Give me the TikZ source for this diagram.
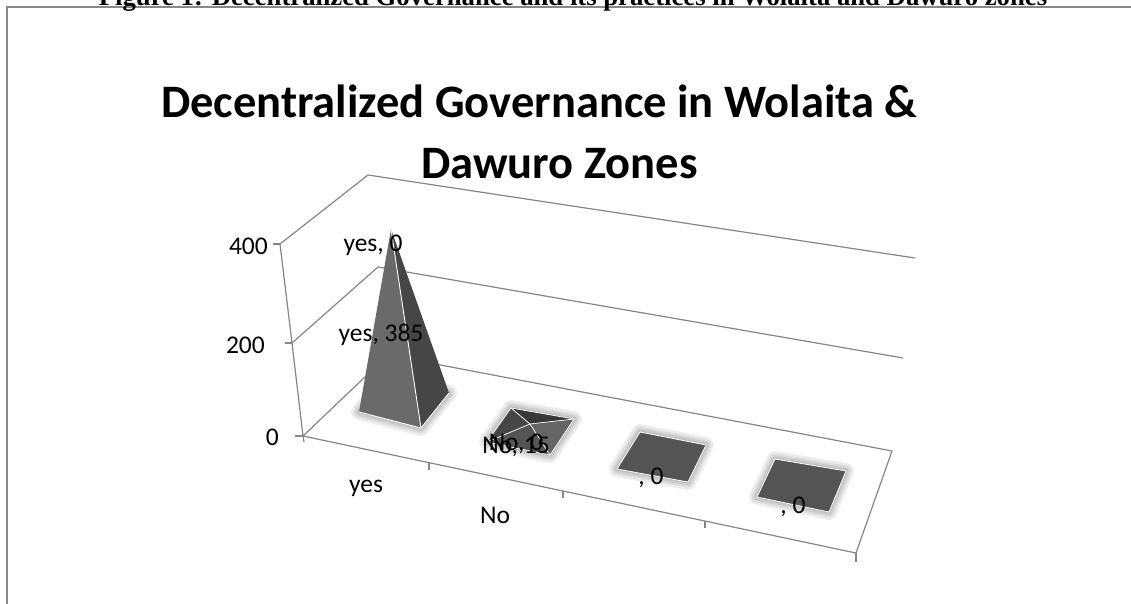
\documentclass[tikz,border=0pt]{standalone}
\usepackage{fontspec}
\setmainfont{Liberation Serif}
\newfontfamily\calfont{Carlito}
\definecolor{framegray}{HTML}{888888}
\definecolor{axisgray}{HTML}{868686}
\definecolor{facelight}{HTML}{6A6A6A}
\definecolor{facedark}{HTML}{464646}
\definecolor{flatgray}{HTML}{545454}
\tikzset{
  axisline/.style={draw=axisgray, line width=1.2pt, line join=round},
  glowpath/.style={draw=black, fill=black, line join=round, opacity=0.07},
  edgewhite/.style={draw=white, line width=0.9pt, line join=round},
  lbl/.style={font=\calfont\fontsize{25.5}{30}\selectfont, inner sep=0pt, text=black},
  ttl/.style={font=\calfont\bfseries\fontsize{46.5}{52}\selectfont, inner sep=0pt, anchor=base west},
  figcap/.style={font=\bfseries\fontsize{26.7}{30}\selectfont, inner sep=0pt, anchor=base}
}
\begin{document}
\begin{tikzpicture}[x=1pt,y=-1pt]
\useasboundingbox (0,0) rectangle (1131,603);
\clip (0,0) rectangle (1131,603);
% frame
\draw[framegray, line width=1.6pt] (7,620) -- (7,7) -- (1140,7);
% caption (clipped at top)
\node[figcap] (caption) at (573,5) {Figure 1: Decentralized Governance and its practices in Wolaita and Dawuro zones};
% title
\node[ttl] (title1) at (161,117) {Decentralized Governance in Wolaita \&};
\node[ttl] (title2) at (421,178) {Dawuro Zones};
% axes geometry
\coordinate (A400) at (280,244); \coordinate (A200) at (292,343); \coordinate (A0) at (303,436);
\coordinate (B400) at (368,175); \coordinate (B200) at (378,267); \coordinate (B0) at (388,355);
\coordinate (C400) at (915,258); \coordinate (C200) at (903,358); \coordinate (C0) at (892,451);
\coordinate (F0) at (856,553);
\coordinate (Abot) at (304,442); \coordinate (Fbot) at (856,562);
\coordinate (T400) at (273,244); \coordinate (T200) at (285,343); \coordinate (T0) at (295,436);
\draw[axisline] (A400) -- (A200) -- (A0) -- (Abot);
\draw[axisline] (T400) -- (A400); \draw[axisline] (T200) -- (A200); \draw[axisline] (T0) -- (A0);
\draw[axisline] (A400) -- (B400) -- (C400);
\draw[axisline] (A200) -- (B200) -- (C200);
\draw[axisline] (A0) -- (B0) -- (C0) -- (F0) -- cycle;
\draw[axisline] (F0) -- (Fbot);
\coordinate (k1) at (429,462.7); \coordinate (k1b) at (429,470);
\coordinate (k2) at (563,491); \coordinate (k2b) at (563,498);
\coordinate (k3) at (705,521); \coordinate (k3b) at (705,528);
\draw[axisline] (k1) -- (k1b); \draw[axisline] (k2) -- (k2b); \draw[axisline] (k3) -- (k3b);
% axis labels
\node[lbl, anchor=east] (v400) at (268,246) {400};
\node[lbl, anchor=east] (v200) at (265,345) {200};
\node[lbl, anchor=east] (v0) at (279,437) {0};
\node[lbl] (cyes) at (366,488) {yes};
\node[lbl] (cno) at (495,515) {No};
% ---- yes pyramid
\coordinate (YA) at (391,229); \coordinate (YFL) at (359,412); \coordinate (YFR) at (421,428);
\coordinate (YBR) at (449,393); \coordinate (YBL) at (388,378);
\begin{scope}[shift={(-3,4)}]
\foreach \w in {16,11,7,3} \path[glowpath, line width=\w pt] (YFL) -- (YFR) -- (YBR) -- (YBL) -- cycle;
\end{scope}
\fill[facelight] (YA) -- (YFL) -- (YFR) -- cycle;
\fill[facedark] (YA) -- (YFR) -- (YBR) -- cycle;
\draw[edgewhite] (YFL) -- (YFR) -- (YBR);
\draw[edgewhite] (YA) -- (YFR);
% ---- No pyramid (flat)
\coordinate (NA) at (530,424); \coordinate (N1) at (511,408); \coordinate (N2) at (574,419);
\coordinate (N3) at (550,455); \coordinate (N4) at (487,442);
\begin{scope}[shift={(-2,3)}]
\foreach \w in {16,11,7,3} \path[glowpath, line width=\w pt] (N1) -- (N2) -- (N3) -- (N4) -- cycle;
\end{scope}
\fill[facedark!80!black] (N1) -- (N2) -- (NA) -- cycle;
\fill[facedark] (N1) -- (NA) -- (N4) -- cycle;
\fill[flatgray] (N4) -- (NA) -- (N3) -- cycle;
\fill[flatgray!90!white] (NA) -- (N2) -- (N3) -- cycle;
\draw[edgewhite, line width=0.7pt] (N1) -- (N2) -- (N3) -- (N4) -- cycle;
\draw[edgewhite, line width=0.7pt] (N1) -- (NA) -- (N3);
\draw[edgewhite, line width=0.7pt] (N4) -- (NA) -- (N2);
% ---- flat squares
\coordinate (S1) at (640,432); \coordinate (S2) at (706,445); \coordinate (S3) at (688,482); \coordinate (S4) at (617,469);
\coordinate (R1) at (775,459); \coordinate (R2) at (846,471); \coordinate (R3) at (829,512); \coordinate (R4) at (757,497);
\begin{scope}[shift={(-2,3)}]
\foreach \w in {16,11,7,3} {
  \path[glowpath, line width=\w pt] (S1) -- (S2) -- (S3) -- (S4) -- cycle;
  \path[glowpath, line width=\w pt] (R1) -- (R2) -- (R3) -- (R4) -- cycle;
}
\end{scope}
\filldraw[fill=flatgray, edgewhite, line width=0.8pt] (S1) -- (S2) -- (S3) -- (S4) -- cycle;
\filldraw[fill=flatgray, edgewhite, line width=0.8pt] (R1) -- (R2) -- (R3) -- (R4) -- cycle;
% data labels
\node[lbl] (dyes0) at (373,245) {yes, 0};
\node[lbl] (dyes385) at (381,335) {yes, 385};
\node[lbl] (dno15) at (516,447) {No, 15};
\node[lbl] (dno0) at (516,444) {No, 0};
\node[lbl] (dc3) at (651,478) {, 0};
\node[lbl] (dc4) at (793,507) {, 0};
\end{tikzpicture}
\end{document}
